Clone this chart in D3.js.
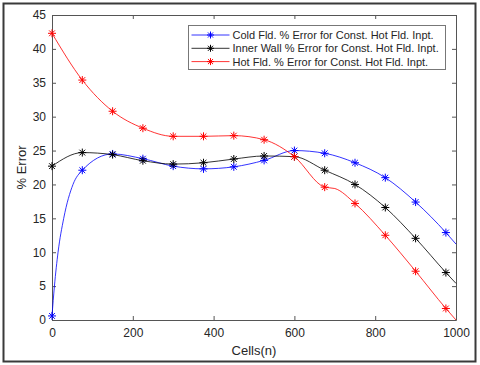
<!DOCTYPE html>
<html>
<head>
<meta charset="utf-8">
<script src="https://cdn.jsdelivr.net/npm/d3@7"></script>
<style>
  body { margin: 0; background: #fff; }
  svg text { font-family: "Liberation Sans", Arial, sans-serif; fill: #262626; }
</style>
</head>
<body>
<div class="chart"></div>
<script>
// data (markers every 75 cells, extra points shape the curves)
const seriesNames = [
  "Cold Fld. % Error for Const. Hot Fld. Inpt.",
  "Inner Wall % Error for Const. Hot Fld. Inpt.",
  "Hot Fld. % Error for Const. Hot Fld. Inpt."
];
const coldX = [0, 6, 15, 29, 52, 75, 150, 225, 300, 375, 450, 525, 600, 675, 750, 825, 900, 975, 1000];
const coldY = [0.6, 5, 10, 15, 20, 22.1, 24.5, 23.8, 22.7, 22.3, 22.6, 23.55, 25.0, 24.6, 23.2, 21.0, 17.4, 12.9, 11.2];
const wallX = [0, 75, 150, 225, 300, 375, 450, 525, 600, 675, 750, 825, 900, 975, 1000];
const wallY = [22.7, 24.7, 24.4, 23.5, 23.0, 23.2, 23.75, 24.2, 24.1, 22.1, 20.0, 16.6, 12.05, 7.0, 5.4];
const hotX = [0, 75, 150, 225, 300, 375, 450, 525, 600, 675, 700, 750, 825, 900, 975, 1000];
const hotY = [42.3, 35.4, 30.8, 28.3, 27.1, 27.1, 27.2, 26.6, 24.1, 19.6, 19.4, 17.2, 12.5, 7.2, 1.7, 0];
const colors = ["#0000ff", "#000000", "#ff0000"];
const xTicks = [0, 200, 400, 600, 800, 1000];
const yTicks = [0, 5, 10, 15, 20, 25, 30, 35, 40, 45];

const series = [
  {name: seriesNames[0], color: colors[0], pts: coldX.map((x, i) => ({x, y: coldY[i]}))},
  {name: seriesNames[1], color: colors[1], pts: wallX.map((x, i) => ({x, y: wallY[i]}))},
  {name: seriesNames[2], color: colors[2], pts: hotX.map((x, i) => ({x, y: hotY[i]}))}
];

const W = 480, H = 365;
const margin = {top: 15, right: 24, bottom: 45, left: 52};
const width = W - margin.left - margin.right;
const height = H - margin.top - margin.bottom;

const root = d3.select(".chart").append("svg")
  .attr("width", W).attr("height", H);

// outer frame
root.append("rect")
  .attr("x", 3.5).attr("y", 3.5).attr("width", 472).attr("height", 358)
  .attr("fill", "#fff").attr("stroke", "#3a3a3a").attr("stroke-width", 2);

const svg = root.append("g")
  .attr("transform", "translate(" + margin.left + "," + margin.top + ")");

const x = d3.scaleLinear().domain([0, 1000]).range([0, width]);
const y = d3.scaleLinear().domain([0, 45]).range([height, 0]);

const tickLen = 4;
const axisColor = "#555";

function styleAxis(g) {
  g.select(".domain").attr("stroke", axisColor);
  g.selectAll(".tick line").attr("stroke", axisColor);
  g.selectAll("text").attr("font-size", 12).attr("fill", "#262626")
    .style("font-family", "'Liberation Sans', Arial, sans-serif");
}

svg.append("g").attr("transform", "translate(0," + height + ")")
  .call(d3.axisBottom(x).tickValues(xTicks).tickFormat(d3.format("d"))
    .tickSize(-tickLen).tickPadding(8).tickSizeOuter(0))
  .call(styleAxis);
svg.append("g")
  .call(d3.axisLeft(y).tickValues(yTicks).tickSize(-tickLen).tickPadding(6).tickSizeOuter(0))
  .call(styleAxis);
svg.append("g")
  .call(d3.axisTop(x).tickValues(xTicks).tickSize(-tickLen).tickFormat("").tickSizeOuter(0))
  .call(styleAxis);
svg.append("g").attr("transform", "translate(" + width + ",0)")
  .call(d3.axisRight(y).tickValues(yTicks).tickSize(-tickLen).tickFormat("").tickSizeOuter(0))
  .call(styleAxis);

// axis labels
svg.append("text")
  .attr("x", width / 2).attr("y", height + 35)
  .attr("text-anchor", "middle").attr("font-size", 13)
  .text("Cells(n)");
svg.append("text")
  .attr("transform", "translate(-26," + height / 2 + ") rotate(-90)")
  .attr("text-anchor", "middle").attr("font-size", 13)
  .text("% Error");

const line = d3.line()
  .x(d => x(d.x)).y(d => y(d.y))
  .curve(d3.curveMonotoneX);

function star(g, cx, cy, r, color) {
  const s = g.append("g").attr("transform", "translate(" + cx + "," + cy + ")")
    .attr("stroke", color).attr("stroke-width", 1);
  const d = r * 0.72;
  s.append("line").attr("x1", -r).attr("x2", r).attr("y1", 0).attr("y2", 0);
  s.append("line").attr("x1", 0).attr("x2", 0).attr("y1", -r).attr("y2", r);
  s.append("line").attr("x1", -d).attr("x2", d).attr("y1", -d).attr("y2", d);
  s.append("line").attr("x1", -d).attr("x2", d).attr("y1", d).attr("y2", -d);
}

const plot = svg.append("g");
series.forEach(s => {
  plot.append("path").datum(s.pts)
    .attr("fill", "none").attr("stroke", s.color).attr("stroke-width", 0.8)
    .attr("d", line);
  s.pts.filter(p => p.x % 75 === 0 && p.x < 1000).forEach(p => {
    star(plot, x(p.x), y(p.y), 4, s.color);
  });
});

// legend
const lg = svg.append("g").attr("transform", "translate(" + (188.5 - margin.left) + "," + (25.5 - margin.top) + ")");
lg.append("rect").attr("width", 257).attr("height", 44)
  .attr("fill", "#fff").attr("stroke", "#777").attr("stroke-width", 1);
series.forEach((s, i) => {
  const cy = 9.5 + i * 13.3;
  lg.append("line").attr("x1", 3).attr("x2", 41).attr("y1", cy).attr("y2", cy)
    .attr("stroke", s.color).attr("stroke-width", 0.8);
  star(lg, 22, cy, 3.5, s.color);
  lg.append("text").attr("x", 44).attr("y", cy + 4)
    .attr("font-size", 11).text(s.name);
});
</script>
</body>
</html>
